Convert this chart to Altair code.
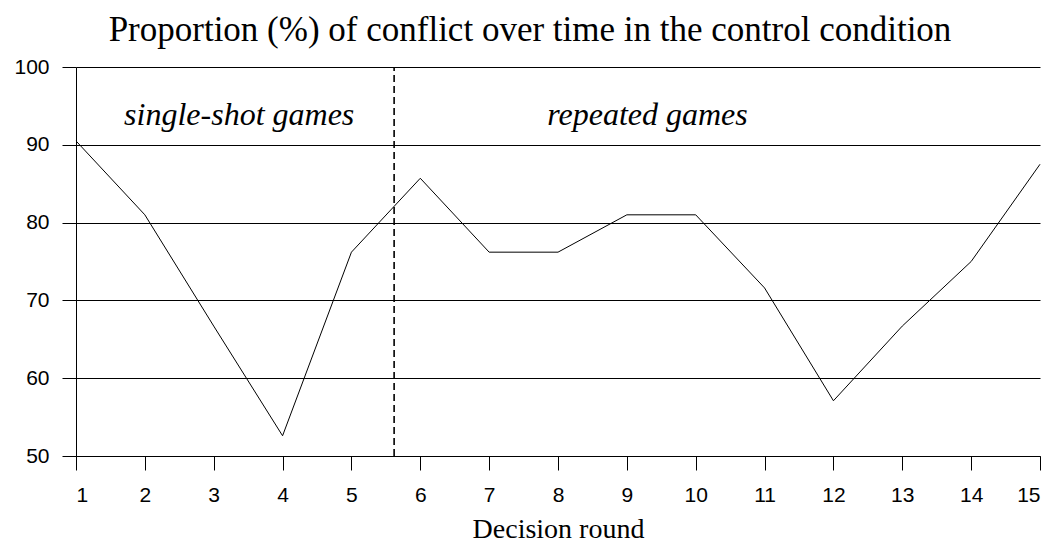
import altair as alt
import pandas as pd

# Data
rounds = list(range(1, 16))
conflict = [90.5, 81.0, 66.7, 52.6, 76.2, 85.7, 76.2, 76.2, 81.0, 81.0, 71.6, 57.1, 66.7, 75.0, 87.5]

divider_x = [5.62]
divider_y_low = [50]
divider_y_high = [100]

annot_labels = ["single-shot games", "repeated games"]
annot_x = [3.37, 9.30]
annot_y = [92.6, 92.6]

x_ticks = list(range(1, 16))
y_ticks = [50, 60, 70, 80, 90, 100]

line_df = pd.DataFrame({"round": rounds, "conflict": conflict})
div_df = pd.DataFrame({"x": divider_x, "y": divider_y_low, "y2": divider_y_high})
ann_df = pd.DataFrame({"label": annot_labels, "x": annot_x, "y": annot_y})

xscale = alt.Scale(domain=[1, 15], nice=False, zero=False)
yscale = alt.Scale(domain=[50, 100], nice=False, zero=False)

line = alt.Chart(line_df).mark_line(color="black", strokeWidth=1).encode(
    x=alt.X("round:Q", scale=xscale,
            axis=alt.Axis(values=x_ticks, title="Decision round", grid=False,
                          tickSize=14, labelPadding=14, format="d",
                          titleY=81, titleBaseline="alphabetic")),
    y=alt.Y("conflict:Q", scale=yscale,
            axis=alt.Axis(values=y_ticks, title=None, grid=True,
                          tickSize=14, labelPadding=13, format="d")),
)

divider = alt.Chart(div_df).mark_rule(color="black", strokeWidth=1.6, strokeDash=[7, 4]).encode(
    x=alt.X("x:Q", scale=xscale),
    y=alt.Y("y:Q", scale=yscale),
    y2="y2:Q",
)

annots = alt.Chart(ann_df).mark_text(
    font="Liberation Serif", fontSize=32, fontStyle="italic", color="black",
    align="center", baseline="alphabetic"
).encode(
    x=alt.X("x:Q", scale=xscale),
    y=alt.Y("y:Q", scale=yscale),
    text="label:N",
)

chart = alt.layer(divider, line, annots).properties(
    width=964,
    height=389,
    autosize=alt.AutoSizeParams(type="none"),
    padding={"left": 68, "top": 59, "right": 7, "bottom": 90},
    title=alt.TitleParams(
        text="Proportion (%) of conflict over time in the control condition",
        font="Liberation Serif", fontSize=35, fontWeight="normal", color="black",
        anchor="middle", dx=-28, dy=38, baseline="alphabetic", offset=18,
    ),
).configure_view(stroke=None).configure_axis(
    domainColor="black", domainWidth=1, tickColor="black", tickWidth=1,
    gridColor="black", gridWidth=1, gridOpacity=1,
    labelFont="Liberation Sans", labelFontSize=21, labelColor="black",
    titleFont="Liberation Serif", titleFontSize=28, titleFontWeight="normal", titleColor="black",
)

chart.save("out.html", embed_options={"renderer": "svg", "actions": False})
